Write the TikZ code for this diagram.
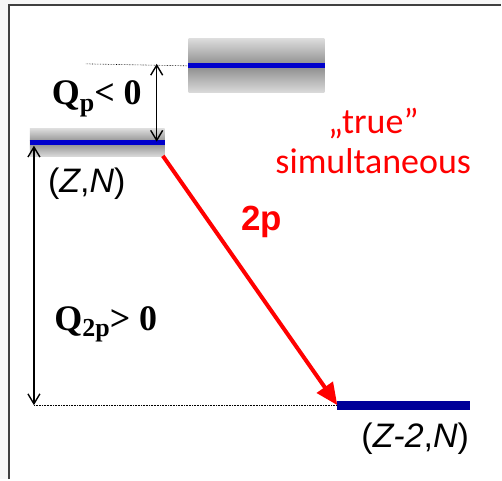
\documentclass[tikz,border=0pt]{standalone}
\usepackage{fontspec}
\setmainfont{Liberation Serif}
\newfontfamily\arialfont{Liberation Sans}
\newfontfamily\calfont{Carlito}
\usetikzlibrary{arrows.meta}

\definecolor{levelblue}{RGB}{0,0,204}
\definecolor{groundblue}{RGB}{0,0,153}

\tikzset{
  smear/.style={draw=none, top color=gray!28, bottom color=gray!28, middle color=gray!90, inner sep=0pt},
  gap/.style={line width=1.4pt, {Straight Barb[length=10pt,width=12pt]}-{Straight Barb[length=10pt,width=12pt]}},
  guide/.style={densely dotted, line width=0.6pt},
  qlabel/.style={font=\fontsize{36}{38}\selectfont\bfseries},
  nuc/.style={font=\arialfont\fontsize{34}{36}\selectfont}
}

\begin{document}
\begin{tikzpicture}[x=1pt, y=1pt]
	\fill[black!3] (0,0) rectangle (502,480);
	\fill[white] (10,0) rectangle (502,474);
	\draw[black!75, line width=2pt] (9.5,0) -- (9.5,474.5) -- (502,474.5);
	\useasboundingbox (0,0) rectangle (502,480);
	% levels
	\node[smear, minimum width=135pt, minimum height=28pt] (parent) at (97.5,337) {};
	\node[smear, minimum width=136pt, minimum height=54pt] (inter) at (257,414) {};
	\draw[levelblue, line width=5pt] (parent.west) -- (parent.east);
	\draw[levelblue, line width=5pt] (inter.west) -- (inter.east);
	\coordinate (dleft) at (338,74);
	\coordinate (dright) at (471,74);
	\draw[groundblue, line width=9pt] (dleft) -- (dright);
	% guides and gaps
	\coordinate (qptop) at (157,416);
	\coordinate (qpbot) at (157,338);
	\coordinate (qqtop) at (34,334);
	\coordinate (qqbot) at (34,74);
	\draw[guide] (86,416) -- (inter.west);
	\draw[guide] (qqbot) -- (dleft);
	\draw[gap] (qptop) -- (qpbot);
	\draw[gap] (qqtop) -- (qqbot);
	\draw[red, line width=4pt, -{Triangle[length=22pt,width=19pt]}] (parent.south east) ++(-2,1) -- (dleft);
	% labels
	\node[qlabel] (qp) at (97,381) {Q\raisebox{-0.4ex}{\fontsize{26}{28}\selectfont p}< 0};
	\node[qlabel] (qq) at (106,155) {Q\raisebox{-0.4ex}{\fontsize{26}{28}\selectfont 2p}> 0};
	\node[nuc] (zn) at (87,296) {({\itshape Z},{\itshape N})};
	\node[nuc] (zn2) at (416,40) {({\itshape Z-2},{\itshape N})};
	\node[red, font=\arialfont\bfseries\fontsize{35}{37}\selectfont] (twop) at (262,258) {2p};
	\node[red, font=\calfont\fontsize{36}{40}\selectfont, align=center] (sim) at (374,339) {„true”\\simultaneous};
\end{tikzpicture}
\end{document}
